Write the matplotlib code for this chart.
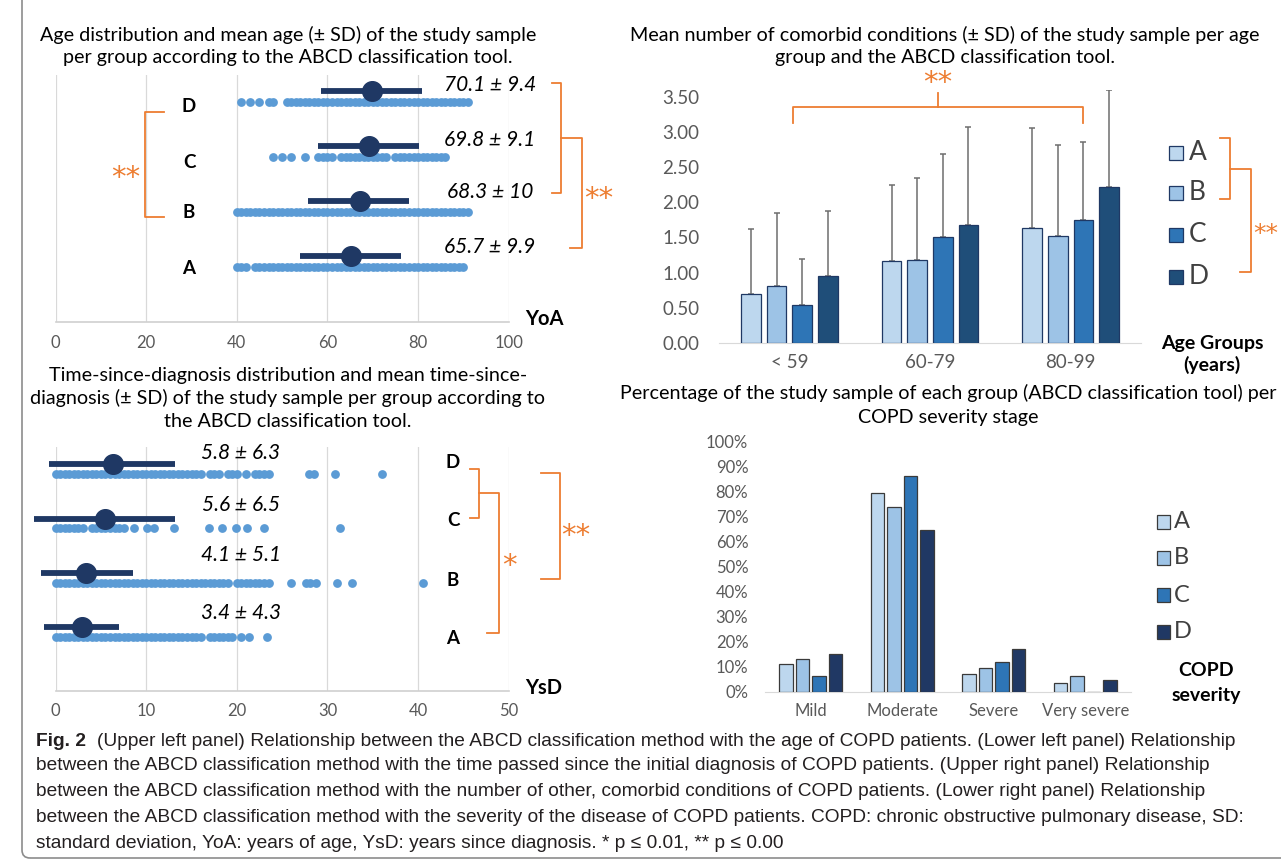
import matplotlib
matplotlib.use("Agg")
import matplotlib.pyplot as plt
from matplotlib.lines import Line2D
from matplotlib.patches import FancyBboxPatch, Rectangle
from matplotlib.transforms import IdentityTransform

W, H = 1281, 864
plt.rcParams['font.family'] = ['Lato', 'DejaVu Sans']

groups = ["A", "B", "C", "D"]
colors_ur = ["#BDD7EE", "#9DC3E6", "#2E75B6", "#1F4E79"]
colors_lr = ["#BDD7EE", "#9DC3E6", "#2E75B6", "#203864"]
ORANGE = "#ED7D31"
NAVY = "#1F3864"
DOT = "#5B9BD5"
GREY = "#595959"

# ---- upper left: age (YoA) ----
age_text = ["65.7 ± 9.9", "68.3 ± 10", "69.8 ± 9.1", "70.1 ± 9.4"]
age_mean = [65.1, 67.1, 69.1, 69.8]
age_lo = [53.9, 55.8, 57.9, 58.6]
age_hi = [76.2, 78.1, 80.2, 80.9]
age_A = [40, 41, 42, 44, 45, 46, 47, 48, 49, 50, 51, 52, 53, 54, 55, 56, 57, 58, 59, 60, 61, 62, 63, 64, 65,
         66, 67, 68, 69, 70, 71, 72, 73, 74, 75, 76, 77, 78, 79, 80, 81, 82, 83, 84, 85, 86, 87, 88, 89, 90]
age_B = [40, 41, 42, 43, 44, 45, 46, 47, 48, 49, 50, 51, 52, 53, 54, 55, 56, 57, 58, 59, 60, 61, 62, 63, 64, 65,
         66, 67, 68, 69, 70, 71, 72, 73, 74, 75, 76, 77, 78, 79, 80, 81, 82, 83, 84, 85, 86, 87, 88, 89, 90, 91]
age_C = [48, 50, 52, 55, 58, 59, 60, 61, 63, 64, 65, 66, 67, 68, 69, 70, 71, 72, 73,
         75, 76, 77, 78, 79, 80, 81, 82, 83, 84, 85, 86]
age_D = [41, 43, 45, 47, 48, 51, 52, 53, 54, 55, 56, 57, 58, 59, 60, 61, 62, 63, 64, 65, 66, 67, 68, 69, 70,
         71, 72, 73, 74, 75, 76, 77, 78, 79, 80, 81, 82, 83, 84, 85, 86, 87, 88, 89, 90, 91]

# ---- lower left: years since diagnosis (YsD) ----
ysd_text = ["3.4 ± 4.3", "4.1 ± 5.1", "5.6 ± 6.5", "5.8 ± 6.3"]
ysd_mean = [2.9, 3.4, 5.4, 6.3]
ysd_lo = [-1.3, -1.6, -2.4, -0.7]
ysd_hi = [7.0, 8.5, 13.2, 13.2]
ysd_A = [0, 0.5, 1, 1.5, 2, 2.5, 3, 3.5, 4, 4.5, 5, 5.5, 6, 6.5, 7, 7.5, 8, 8.5, 9, 9.5, 10, 10.5, 11,
         11.5, 12, 12.5, 13, 13.5, 14, 14.5, 15, 15.5, 16, 17, 17.5, 18, 18.5, 19, 19.5, 20.5, 21.3, 23.3]
ysd_B = [0, 0.5, 1, 1.5, 2, 2.5, 3, 3.5, 4, 4.5, 5, 5.5, 6, 6.5, 7, 7.5, 8, 8.5, 9, 9.5, 10, 10.5, 11,
         11.5, 12, 12.5, 13, 13.5, 14, 14.5, 15, 15.5, 16, 16.5, 17, 17.5, 18, 18.5, 19, 20, 20.5, 21,
         21.5, 22, 22.5, 23, 23.5, 26.0, 27.6, 28.1, 28.7, 31.1, 32.7, 40.5]
ysd_C = [0, 0.5, 1, 1.5, 2, 2.5, 3, 4, 4.5, 5, 5.5, 6, 6.5, 7, 7.5, 8.6, 10.1, 10.9, 13.1, 16.9, 18.4,
         19.9, 21.1, 23.0, 31.4]
ysd_D = [0, 0.5, 1, 1.5, 2, 2.5, 3, 3.5, 4, 4.5, 5, 5.5, 6, 6.5, 7, 7.5, 8, 8.5, 9, 9.5, 10, 10.5, 11,
         11.5, 12, 12.5, 13, 13.5, 14, 14.5, 15, 15.5, 16, 17, 17.5, 18, 19, 19.5, 20, 21, 22, 22.5, 23,
         23.5, 28.0, 28.5, 30.8, 36.0]

# ---- upper right: comorbid conditions ----
age_groups = ["< 59", "60-79", "80-99"]
comorb_mean = {"A": [0.70, 1.16, 1.64], "B": [0.81, 1.18, 1.52],
               "C": [0.54, 1.50, 1.75], "D": [0.95, 1.67, 2.22]}
comorb_sd = {"A": [0.92, 1.08, 1.41], "B": [1.03, 1.16, 1.29],
             "C": [0.66, 1.18, 1.11], "D": [0.93, 1.40, 1.37]}

# ---- lower right: severity ----
severity = ["Mild", "Moderate", "Severe", "Very severe"]
sev_pct = {"A": [10.9, 79.6, 7.2, 3.3], "B": [13.1, 74.0, 9.3, 6.3],
           "C": [6.3, 86.3, 11.7, 0.0], "D": [15.1, 64.5, 16.9, 4.5]}

fig = plt.figure(figsize=(W / 100, H / 100), dpi=100)


def axes_px(x0, y0, x1, y1):
    return fig.add_axes([x0 / W, 1 - y1 / H, (x1 - x0) / W, (y1 - y0) / H])


def ftext(x, y, s, **kw):
    kw.setdefault("ha", "center")
    kw.setdefault("va", "center")
    return fig.text(x / W, 1 - y / H, s, **kw)


def fline(pts, color=ORANGE, lw=1.3):
    fig.add_artist(Line2D([p[0] / W for p in pts], [1 - p[1] / H for p in pts],
                          color=color, lw=lw, solid_joinstyle="round"))


def stars(x, y, s, ha="center", size=21):
    # asterisks sit high in the glyph box, so push them down a bit
    ftext(x, y + 6, s, fontsize=size, color=ORANGE, style="italic", family="DejaVu Sans", ha=ha)


def dot_panel(ax, data, means, lo, hi, xmax, step, off):
    ax.set_xlim(0, xmax)
    ax.set_ylim(0, 4.5)
    for i, vals in enumerate(data):
        ax.scatter(vals, [i + 1] * len(vals), s=40, color=DOT, lw=0, zorder=2, clip_on=False)
        ax.hlines(i + 1 + off, lo[i], hi[i], color=NAVY, lw=4.2, zorder=3, clip_on=False)
        ax.scatter([means[i]], [i + 1 + off], s=200, color=NAVY, zorder=4, clip_on=False)
    ax.set_xticks(range(0, xmax + 1, step))
    ax.set_yticks([])
    ax.grid(axis="x", color="#D9D9D9", lw=0.9)
    ax.set_axisbelow(True)
    for s in ["top", "right", "left"]:
        ax.spines[s].set_visible(False)
    ax.spines["bottom"].set_color("#D0D0D0")
    ax.spines["bottom"].set_linewidth(1.2)
    ax.tick_params(length=0, pad=9, labelsize=12, labelcolor=GREY)


TS = 14.2  # panel title size

# upper left panel
ax1 = axes_px(55.6, 75, 508.7, 322)
dot_panel(ax1, [age_A, age_B, age_C, age_D], age_mean, age_lo, age_hi, 100, 20, 0.2)
for lab, y in zip(groups, [269, 213, 163, 107]):
    ftext(189, y, lab, fontsize=13.5, fontweight="bold")
for t, y in zip(age_text, [247, 192, 140, 85]):
    ftext(490, y, t, fontsize=15, style="italic")
ftext(544, 319, "YoA", fontsize=14.5, fontweight="bold")
ftext(288, 35, "Age distribution and mean age (± SD) of the study sample", fontsize=TS)
ftext(288, 58, "per group according to the ABCD classification tool.", fontsize=TS)
fline([(164, 112), (145, 112), (145, 217), (164, 217)])
stars(126, 172, "**")
fline([(552, 83), (561, 83), (561, 193), (552, 193)])
fline([(561, 138), (581.5, 138), (581.5, 248), (570, 248)])
stars(599, 193, "**")

# lower left panel
ax2 = axes_px(55.6, 447, 508.7, 691)
dot_panel(ax2, [ysd_A, ysd_B, ysd_C, ysd_D], ysd_mean, ysd_lo, ysd_hi, 50, 10, 0.18)
for lab, y in zip(groups, [638, 580, 520, 463]):
    ftext(453, y, lab, fontsize=13.5, fontweight="bold")
for t, y in zip(ysd_text, [613, 555, 505, 453]):
    ftext(241, y, t, fontsize=15, style="italic")
ftext(544, 688, "YsD", fontsize=14.5, fontweight="bold")
ftext(288, 375, "Time-since-diagnosis distribution and mean time-since-", fontsize=TS)
ftext(288, 398, "diagnosis (± SD) of the study sample per group according to", fontsize=TS)
ftext(288, 421, "the ABCD classification tool.", fontsize=TS)
fline([(470, 469), (479, 469), (479, 518), (470, 518)])
fline([(479, 493), (499, 493), (499, 633), (487, 633)])
stars(509, 560, "*")
fline([(540.5, 473), (559.6, 473), (559.6, 579), (540.5, 579)])
stars(576, 530, "**")

# upper right panel
ax3 = axes_px(719, 89.6, 1141, 343)
bw, gap = 0.14, 0.182
for k, g in enumerate(groups):
    xs = [i + (k - 1.5) * gap for i in range(len(age_groups))]
    ax3.bar(xs, comorb_mean[g], width=bw, color=colors_ur[k], edgecolor=NAVY, lw=0.9, zorder=3)
    ax3.errorbar(xs, comorb_mean[g], yerr=[[0] * 3, comorb_sd[g]], fmt="none", ecolor="#6E6E6E",
                 elinewidth=1.1, capsize=2.5, capthick=1.1, zorder=2)
ax3.set_xlim(-0.5, 2.5)
ax3.set_ylim(0, 3.6)
ax3.set_yticks([0, 0.5, 1, 1.5, 2, 2.5, 3, 3.5])
ax3.set_yticklabels([f"{v:.2f}" for v in [0, 0.5, 1, 1.5, 2, 2.5, 3, 3.5]])
ax3.set_xticks(range(len(age_groups)))
ax3.set_xticklabels(age_groups)
for s in ["top", "right", "left"]:
    ax3.spines[s].set_visible(False)
ax3.spines["bottom"].set_color("#D9D9D9")
ax3.tick_params(length=0, labelsize=13.5, labelcolor=GREY, pad=8)
ax3.tick_params(axis="y", pad=14)
ftext(945, 35, "Mean number of comorbid conditions (± SD) of the study sample per age", fontsize=TS)
ftext(945, 58, "group and the ABCD classification tool.", fontsize=TS)
for k, (g, y) in enumerate(zip(groups, [153, 193, 235, 277])):
    fig.add_artist(Rectangle((1169 / W, 1 - (y + 7) / H), 14 / W, 14 / H, facecolor=colors_ur[k],
                             edgecolor=NAVY, lw=0.9))
    ftext(1189, y, g, fontsize=19, color="#404040", ha="left")
ftext(1212, 343, "Age Groups", fontsize=14, fontweight="bold")
ftext(1212, 365, "(years)", fontsize=14, fontweight="bold")
fline([(793, 123), (793, 107), (1083, 107), (1083, 123)])
fline([(938, 107), (938, 93)])
stars(938, 77, "**")
fline([(1220, 138), (1229.5, 138), (1229.5, 199), (1220, 199)])
fline([(1229.5, 169), (1251, 169), (1251, 272), (1240, 272)])
stars(1253, 228, "**", ha="left", size=18)

# lower right panel
ax4 = axes_px(765, 441.7, 1131, 691.7)
bw2, gap2 = 0.15, 0.18
for k, g in enumerate(groups):
    xs = [i + (k - 1.5) * gap2 for i in range(len(severity))]
    ax4.bar(xs, sev_pct[g], width=bw2, color=colors_lr[k], edgecolor="#3A3A3A", lw=0.9, zorder=3)
ax4.set_xlim(-0.5, 3.5)
ax4.set_ylim(0, 100)
ax4.set_yticks(range(0, 101, 10))
ax4.set_yticklabels([f"{v}%" for v in range(0, 101, 10)])
ax4.set_xticks(range(len(severity)))
ax4.set_xticklabels(severity)
for s in ["top", "right", "left"]:
    ax4.spines[s].set_visible(False)
ax4.spines["bottom"].set_color("#D9D9D9")
ax4.tick_params(length=0, labelsize=12, labelcolor=GREY, pad=8)
ax4.tick_params(axis="y", pad=12)
ftext(948, 393, "Percentage of the study sample of each group (ABCD classification tool) per", fontsize=TS)
ftext(948, 418, "COPD severity stage", fontsize=TS)
for k, (g, y) in enumerate(zip(groups, [522, 558, 595, 632])):
    fig.add_artist(Rectangle((1156.5 / W, 1 - (y + 7) / H), 13.5 / W, 14 / H, facecolor=colors_lr[k],
                             edgecolor="#3A3A3A", lw=0.9))
    ftext(1174, y, g, fontsize=17, color="#404040", ha="left")
ftext(1206, 670, "COPD", fontsize=14, fontweight="bold")
ftext(1206, 695, "severity", fontsize=14, fontweight="bold")

# caption
cap = dict(fontsize=13.8, family=['Liberation Sans', 'DejaVu Sans'], color="#231F20", ha="left")
ftext(36, 741, "Fig. 2", fontweight="bold", **cap)
ftext(97, 741, "(Upper left panel) Relationship between the ABCD classification method with the age of COPD patients. (Lower left panel) Relationship", **cap)
ftext(36, 766, "between the ABCD classification method with the time passed since the initial diagnosis of COPD patients. (Upper right panel) Relationship", **cap)
ftext(36, 792, "between the ABCD classification method with the number of other, comorbid conditions of COPD patients. (Lower right panel) Relationship", **cap)
ftext(36, 818, "between the ABCD classification method with the severity of the disease of COPD patients. COPD: chronic obstructive pulmonary disease, SD:", **cap)
ftext(36, 843, "standard deviation, YoA: years of age, YsD: years since diagnosis. * p ≤ 0.01, ** p ≤ 0.00", **cap)

# outer frame
fig.add_artist(FancyBboxPatch((22, H - 858), 1300, 900, boxstyle="round,pad=0,rounding_size=8",
                              transform=IdentityTransform(), fill=False, ec="#8C8C8C", lw=1.2))

fig.savefig("out.png", dpi=100)
